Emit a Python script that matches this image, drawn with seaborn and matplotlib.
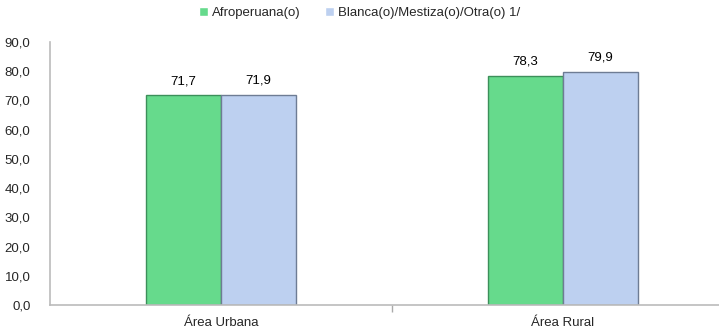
import matplotlib
matplotlib.use("Agg")
import matplotlib.pyplot as plt
import seaborn as sns
import pandas as pd
from matplotlib import font_manager

categories = ["Área Urbana", "Área Rural"]
series = ["Afroperuana(o)", "Blanca(o)/Mestiza(o)/Otra(o) 1/"]
afro = [71.7, 78.3]
blanca = [71.9, 79.9]
yticks = [0, 10, 20, 30, 40, 50, 60, 70, 80, 90]

sns.set_theme(style="white")
names = {f.name for f in font_manager.fontManager.ttflist}
fam = "Liberation Sans Narrow" if "Liberation Sans Narrow" in names else "Liberation Sans"
plt.rcParams["font.family"] = [fam, "DejaVu Sans"]

df = pd.DataFrame({
    "cat": categories * 2,
    "serie": [series[0]] * 2 + [series[1]] * 2,
    "val": afro + blanca,
})

colors = ["#66DA8C", "#BDD0F0"]
edges = ["#3C8F5A", "#6E7C94"]

fig = plt.figure(figsize=(7.19, 3.33), dpi=100)
ax = fig.add_axes([50 / 719, 28 / 333, 684 / 719, 263 / 333])
sns.barplot(data=df, x="cat", y="val", hue="serie", palette=colors,
            width=0.44, ax=ax, legend=True, saturation=1)

for i, cont in enumerate(ax.containers):
    for p in cont.patches:
        p.set_edgecolor(edges[i])
        p.set_linewidth(1.0)
    ax.bar_label(cont, labels=[f"{v:.1f}".replace(".", ",") for v in cont.datavalues],
                 padding=6, fontsize=9.5, color="#000000")

ax.set_ylim(0, 90)
ax.set_xlim(-0.5, 1.5)
ax.set_yticks(yticks)
ax.set_yticklabels([f"{v:.1f}".replace(".", ",") for v in yticks], fontsize=9.5)
ax.set_xlabel("")
ax.set_ylabel("")
ax.tick_params(axis="x", labelsize=9.5, length=0, pad=9)
ax.tick_params(axis="y", length=0, pad=14)
ax.set_xticks([0.5], minor=True)
ax.tick_params(axis="x", which="minor", bottom=True, length=5, width=1,
               color="#AAAAAA", direction="out")

for s in ["top", "right"]:
    ax.spines[s].set_visible(False)
for s in ["left", "bottom"]:
    ax.spines[s].set_color("#BBBBBB")
    ax.spines[s].set_linewidth(1.2)

handles, labels = ax.get_legend_handles_labels()
ax.legend_.remove()
fig.legend(handles, labels, loc="center", bbox_to_anchor=(0.5, 0.962), ncol=2,
           frameon=False, fontsize=9.5, handlelength=0.7, handleheight=0.7,
           handletextpad=0.3, columnspacing=1.8)

fig.savefig("out.png", dpi=100)
